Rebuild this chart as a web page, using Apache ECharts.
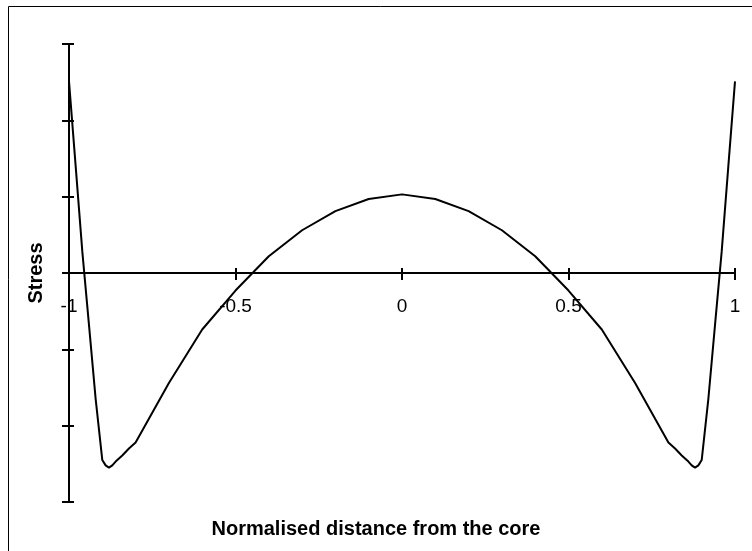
<!DOCTYPE html>
<html>
<head>
<meta charset="utf-8">
<script src="https://cdn.jsdelivr.net/npm/echarts@6/dist/echarts.min.js"></script>
<style>
  html, body { margin: 0; padding: 0; background: #fff; }
  #chart { width: 752px; height: 551px; }
</style>
</head>
<body>
<div id="chart"></div>
<script>
// Normalised position across the section (core at 0)
const positions = [
  -1, -0.98, -0.96, -0.94, -0.92, -0.9, -0.89, -0.88, -0.87, -0.86, -0.84, -0.82, -0.8,
  -0.7, -0.6, -0.5, -0.4, -0.3, -0.2, -0.1, 0, 0.1, 0.2, 0.3, 0.4, 0.5, 0.6, 0.7,
  0.8, 0.82, 0.84, 0.86, 0.87, 0.88, 0.89, 0.9, 0.92, 0.94, 0.96, 0.98, 1
];
// Stress at each position
const stress = [
  2.51, 1.40, 0.28, -0.68, -1.65, -2.45, -2.52, -2.55, -2.52, -2.47, -2.39, -2.30, -2.22,
  -1.44, -0.74, -0.23, 0.22, 0.56, 0.81, 0.97, 1.03, 0.97, 0.81, 0.56, 0.22, -0.23, -0.74, -1.44,
  -2.22, -2.30, -2.39, -2.47, -2.52, -2.55, -2.52, -2.45, -1.65, -0.68, 0.28, 1.40, 2.51
];
const xTicks = { min: -1, max: 1, step: 0.5 };
const yTicks = { min: -3, max: 3, step: 1 };

const FONT = '"Liberation Sans", Arial, sans-serif';
const GRID = { left: 69, right: 17, top: 44, bottom: 49 };
const chartHeight = 551;
const plotHeight = chartHeight - GRID.top - GRID.bottom;
// the horizontal axis runs through stress = 0
const zeroOffset = -plotHeight * (0 - yTicks.min) / (yTicks.max - yTicks.min);

const chart = echarts.init(document.getElementById('chart'), null, { renderer: 'canvas' });

const lineStyle = { color: '#000', width: 2 };
const xBase = {
  type: 'value', min: xTicks.min, max: xTicks.max, interval: xTicks.step,
  position: 'bottom', offset: zeroOffset,
  splitLine: { show: false },
  axisLine: { show: true, onZero: false, lineStyle: lineStyle }
};
const yBase = {
  type: 'value', min: yTicks.min, max: yTicks.max, interval: yTicks.step,
  position: 'left', offset: 0,
  splitLine: { show: false },
  axisLabel: { show: false }
};

chart.setOption({
  animation: false,
  backgroundColor: '#fff',
  grid: Object.assign({ containLabel: false }, GRID),
  title: {
    text: 'Normalised distance from the core',
    left: 'center',
    top: 514,
    textStyle: { fontFamily: FONT, fontSize: 20, fontWeight: 'bold', color: '#000' }
  },
  graphic: [{
    type: 'rect',
    shape: { x: 8.5, y: 6.5, width: 800, height: 600 },
    style: { fill: 'none', stroke: '#000', lineWidth: 1 },
    silent: true, z: -10
  }],
  xAxis: [
    Object.assign({}, xBase, {
      axisTick: { show: true, inside: false, length: 7, lineStyle: lineStyle },
      axisLabel: { show: true, margin: 24, fontFamily: FONT, fontSize: 19, color: '#000' }
    }),
    Object.assign({}, xBase, {
      axisLine: { show: false, onZero: false },
      axisTick: { show: true, inside: true, length: 5, lineStyle: lineStyle },
      axisLabel: { show: false }
    })
  ],
  yAxis: [
    Object.assign({}, yBase, {
      axisLine: { show: true, onZero: false, lineStyle: lineStyle },
      axisTick: { show: true, inside: false, length: 7, lineStyle: lineStyle },
      name: 'Stress',
      nameLocation: 'middle',
      nameGap: 23,
      nameTextStyle: { fontFamily: FONT, fontSize: 20, fontWeight: 'bold', color: '#000' }
    }),
    Object.assign({}, yBase, {
      axisLine: { show: false, onZero: false },
      axisTick: { show: true, inside: true, length: 5, lineStyle: lineStyle }
    })
  ],
  series: [{
    type: 'line',
    xAxisIndex: 0,
    yAxisIndex: 0,
    data: positions.map((p, i) => [p, stress[i]]),
    showSymbol: false,
    symbol: 'none',
    lineStyle: { color: '#000', width: 2 },
    z: 5
  }]
});
</script>
</body>
</html>
